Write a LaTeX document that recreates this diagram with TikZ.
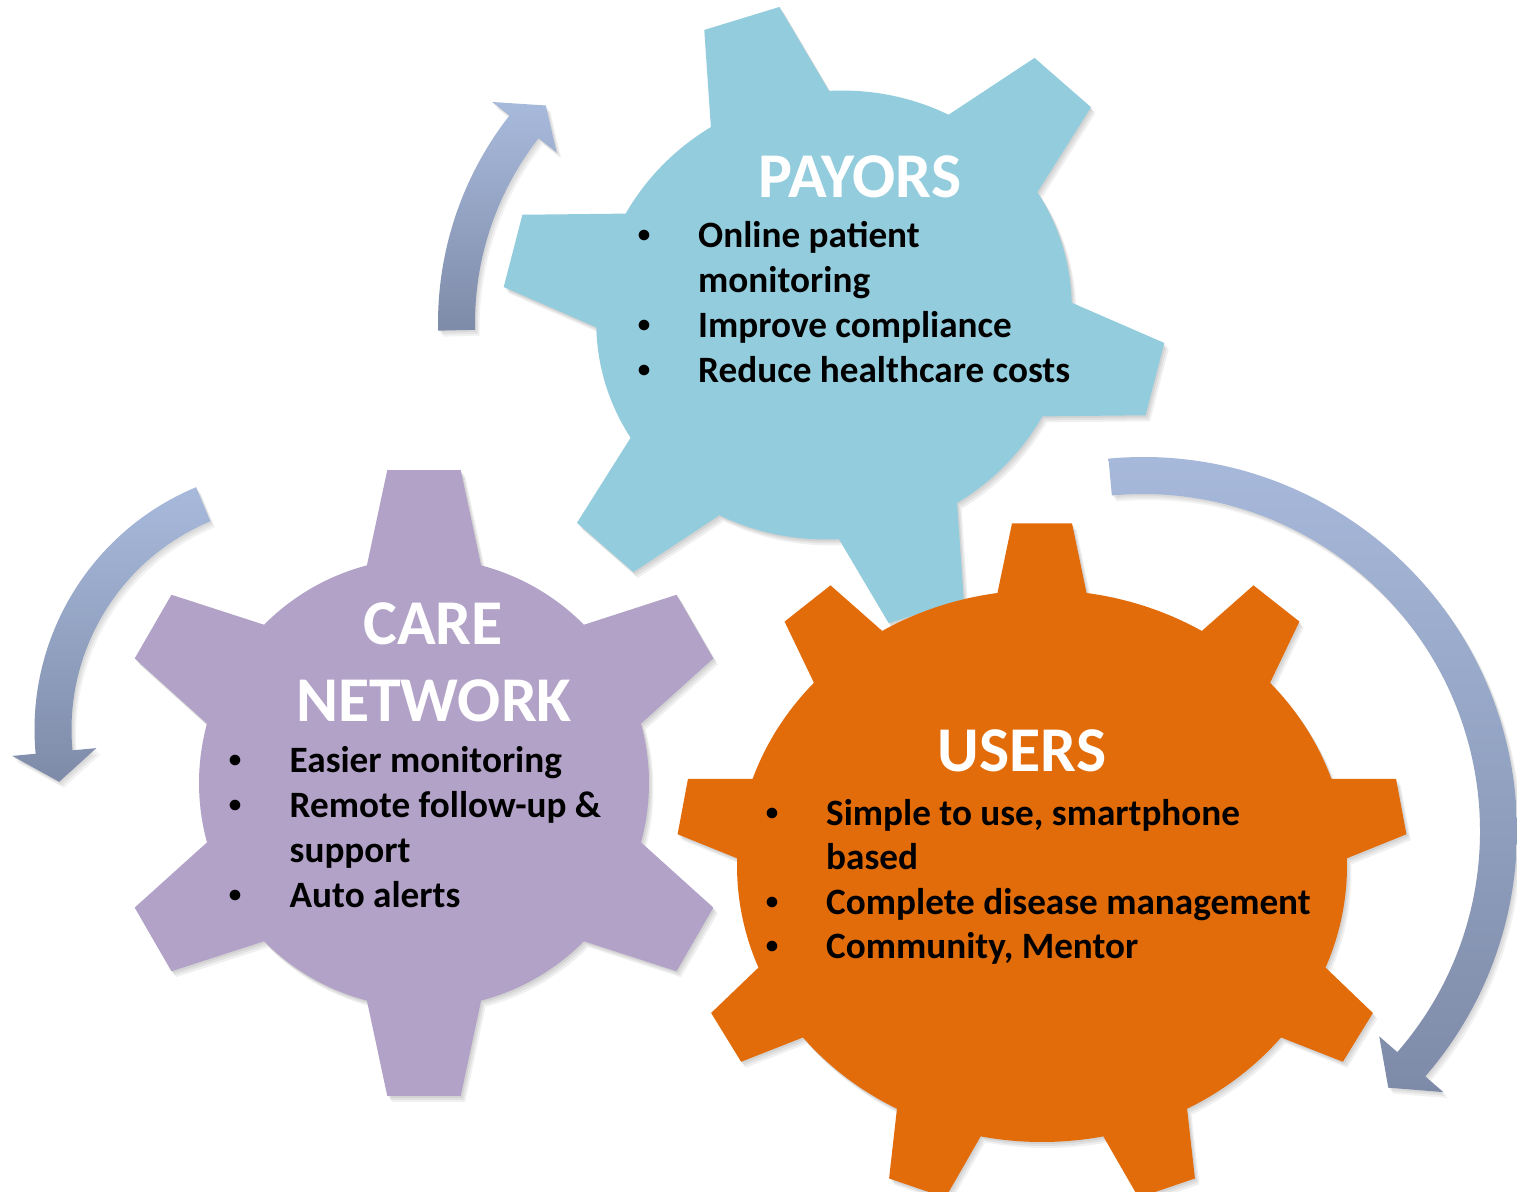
\documentclass[tikz,border=0pt]{standalone}
\usepackage{fontspec}
\setmainfont{Carlito}
\definecolor{gearblue}{RGB}{147,205,221}
\definecolor{gearpurple}{RGB}{178,162,199}
\definecolor{gearorange}{RGB}{227,108,10}
\definecolor{arrowlight}{RGB}{168,186,220}
\definecolor{arrowdark}{RGB}{126,139,168}

% #1 options, #2 first tooth angle, #3 list of tooth angles, #4 pitch,
% #5 half angle at root, #6 half angle at tip, #7 tip radius x, #8 tip radius y
\newcommand\gearfill[8]{%
  \fill[#1] ({#2-#5}:1) \foreach \a in {#3}{ -- ({\a-#5}:1) -- ({#7*cos(\a-#6)},{#8*sin(\a-#6)}) -- ({#7*cos(\a+#6)},{#8*sin(\a+#6)}) -- ({\a+#5}:1) arc[start angle={\a+#5}, end angle={\a+#4-#5}, radius=1]} -- cycle;}
\newcommand\gearwithshadow[9]{%
  \foreach \s in {1.5,3,4.5}{\gearfill{black,opacity=0.06,shift={(\s,-1.33*\s)},#2}{#3}{#4}{#5}{#6}{#7}{#8}{#9}}%
  \gearfill{#1,#2}{#3}{#4}{#5}{#6}{#7}{#8}{#9}}

% #1 centre, #2 outer r, #3 inner r, #4 tail angle, #5 head base angle,
% #6 outer barb r, #7 inner barb r, #8 tip angle, #9 tip r
\newcommand\ringarrow[9]{%
  \foreach \s in {1.5,3,4.5}{\fill[black,opacity=0.05,shift={(\s,-1.33*\s)},shift={#1}] (#4:#2) arc[start angle=#4,end angle=#5,radius=#2] -- (#5:#6) -- (#8:#9) -- (#5:#7) -- (#5:#3) arc[start angle=#5,end angle=#4,radius=#3] -- cycle;}%
  \shade[top color=arrowlight,bottom color=arrowdark,shift={#1}] (#4:#2) arc[start angle=#4,end angle=#5,radius=#2] -- (#5:#6) -- (#8:#9) -- (#5:#7) -- (#5:#3) arc[start angle=#5,end angle=#4,radius=#3] -- cycle;}

\begin{document}
\begin{tikzpicture}[x=1pt,y=1pt,
  gtitle/.style={anchor=base, text=white, font=\fontsize{63.8}{63.8}\selectfont\bfseries, inner sep=0pt},
  gitem/.style={anchor=base west, text=black, font=\fontsize{37.2}{37.2}\selectfont\bfseries, inner sep=0pt},
  gbullet/.style={anchor=base, text=black, font=\fontsize{25}{25}\selectfont\bfseries, inner sep=0pt, yshift=4.7}]
\fill[white] (0,-1191) rectangle (1517,0);
\useasboundingbox (0,-1191) rectangle (1517,0);

% curved arrows
\ringarrow{(775,-323)}{337}{300}{181.3}{142}{359}{277}{136.5}{316}
\ringarrow{(297,-729.5)}{262.5}{225.5}{112.6}{185.3}{286}{201.5}{192.4}{243.5}
\ringarrow{(1143,-831)}{374}{337}{95.3}{-41}{398}{313}{-46.3}{355}

% gears
\gearwithshadow{fill=gearblue}{cm={228.3,69.9,-66.3,213.3,(834,-315)}}{90}{90,150,210,270,330,390}{60}{15}{6.75}{1.40}{1.40}
\gearwithshadow{fill=gearpurple}{shift={(424,-783)},scale=225}{90}{90,150,210,270,330,390}{60}{14.7}{6.7}{1.40}{1.40}
\gearwithshadow{fill=gearorange}{shift={(1042,-866)},xscale=305,yscale=276}{90}{90,130,170,210,250,290,330,370,410}{40}{8.4}{4.7}{1.2}{1.246}

% PAYORS
\node[gtitle] (payT) at (860,-197.5) {PAYORS};
\node[gbullet] (payB1) at (644,-247) {\textbullet};
\node[gitem] (payI1) at (698,-247) {Online patient};
\node[gitem] (payI1b) at (698,-292) {monitoring};
\node[gbullet] (payB2) at (644,-337) {\textbullet};
\node[gitem] (payI2) at (698,-337) {Improve compliance};
\node[gbullet] (payB3) at (644,-382) {\textbullet};
\node[gitem] (payI3) at (698,-382) {Reduce healthcare costs};

% CARE NETWORK
\node[gtitle] (careT1) at (433,-644) {CARE};
\node[gtitle] (careT2) at (434,-721) {NETWORK};
\node[gbullet] (careB1) at (235,-772) {\textbullet};
\node[gitem] (careI1) at (289.5,-772) {Easier monitoring};
\node[gbullet] (careB2) at (235,-817) {\textbullet};
\node[gitem] (careI2) at (289.5,-817) {Remote follow-up \&};
\node[gitem] (careI2b) at (289.5,-862) {support};
\node[gbullet] (careB3) at (235,-907) {\textbullet};
\node[gitem] (careI3) at (289.5,-907) {Auto alerts};

% USERS
\node[gtitle] (usrT) at (1022,-771) {USERS};
\node[gbullet] (usrB1) at (772,-825) {\textbullet};
\node[gitem] (usrI1) at (826,-825) {Simple to use, smartphone};
\node[gitem] (usrI1b) at (826,-869) {based};
\node[gbullet] (usrB2) at (772,-914) {\textbullet};
\node[gitem] (usrI2) at (826,-914) {Complete disease management};
\node[gbullet] (usrB3) at (772,-958) {\textbullet};
\node[gitem] (usrI3) at (826,-958) {Community, Mentor};
\end{tikzpicture}
\end{document}
